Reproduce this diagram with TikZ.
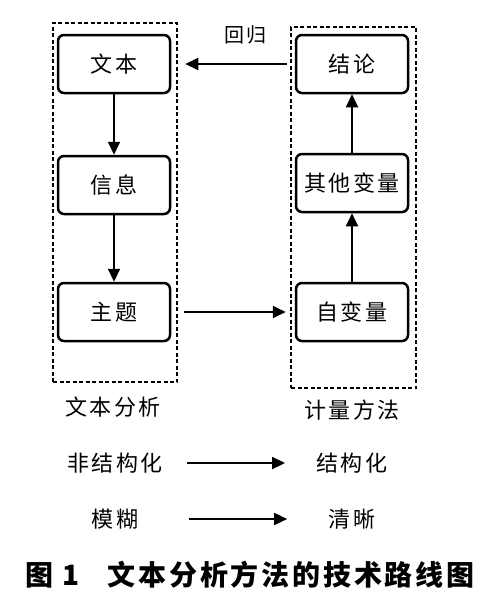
\documentclass[tikz,border=0pt]{standalone}
\usepackage{fontspec}
\setmainfont[LetterSpace=10]{Noto Sans CJK SC}
\usetikzlibrary{arrows.meta}
\begin{document}
\begin{tikzpicture}[x=1pt, y=-1pt, black, thick,
    box/.style={draw, line width=2.5pt, rounded corners=6pt, minimum width=112pt, minimum height=58pt, inner sep=0pt, font=\fontsize{22}{26}\selectfont},
    frame/.style={draw, dash pattern=on 4pt off 2.5pt, line width=1.2pt, inner sep=0pt},
    lbl/.style={font=\fontsize{22}{26}\selectfont},
    arr/.style={line width=1.8pt, -{Triangle[length=13pt,width=12pt]}}]
    \useasboundingbox (0,0) rectangle (500,597);
    \newcommand\XL{114}
    \newcommand\XR{352}
    \node[box] (T) at (\XL, 64){文本};
    \node[box] (I) at (\XL, 185){信息};
    \node[box] (Z) at (\XL, 312){主题};
    \node[box] (J) at (\XR, 64){结论};
    \node[box] (Q) at (\XR, 183){其他变量};
    \node[box] (Y) at (\XR, 312){自变量};
    \node[frame, minimum width=124pt, minimum height=359pt] (FL) at (115, 202.5){};
    \node[frame, minimum width=125pt, minimum height=361pt] (FR) at (353.5, 207.5){};
    \node[lbl] (FLT) at (113, 407){文本分析};
    \node[lbl] (FRT) at (352, 410){计量方法};
    \node[lbl, font=\fontsize{20}{24}\selectfont] (HG) at (245, 35){回归};
    \node[lbl] (A1) at (115, 463){非结构化};
    \node[lbl] (B1) at (352, 463){结构化};
    \node[lbl] (A2) at (115, 519){模糊};
    \node[lbl] (B2) at (352, 519){清晰};
    \node[font=\fontsize{28}{32}\selectfont\bfseries] (CAP) at (250, 575){图 1\quad 文本分析方法的技术路线图};
    \draw[arr] (T) -- (I);
    \draw[arr] (I) -- (Z);
    \draw[arr] (Y) -- (Q);
    \draw[arr] (Q) -- (J);
    \draw[arr, shorten <=8pt, shorten >=14pt] (J) -- (T);
    \draw[arr, shorten <=13pt, shorten >=9pt] (Z) -- (Y);
    \draw[arr, shorten <=21pt, shorten >=28pt] (A1) -- (B1);
    \draw[arr, shorten <=47pt, shorten >=38pt] (A2) -- (B2);
\end{tikzpicture}
\end{document}
